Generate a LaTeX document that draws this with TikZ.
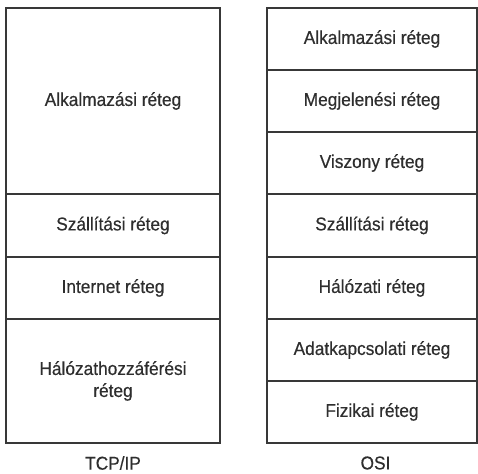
\documentclass[tikz,border=0pt]{standalone}
\usepackage{fontspec}
\setmainfont{Liberation Sans}[FakeStretch=0.93, FakeBold=0.4]
\begin{document}
\begin{tikzpicture}[x=1pt,y=-1pt,
  layer/.style={draw=linegray, line width=2.4pt, rectangle, inner sep=0pt,
    text=textgray, font=\fontsize{18.6}{22}\selectfont, align=center},
  caption/.style={text=textgray, font=\fontsize{18.6}{22}\selectfont, inner sep=0pt}]
\definecolor{linegray}{HTML}{383838}
\definecolor{textgray}{HTML}{2E2E2E}
\useasboundingbox (0,0) rectangle (478,473);
% TCP/IP stack
\node[layer, minimum width=214pt, minimum height=186pt] (tapp) at (113,101) {Alkalmazási réteg};
\node[layer, minimum width=214pt, minimum height=63pt] (ttrans) at (113,225.5) {Szállítási réteg};
\node[layer, minimum width=214pt, minimum height=62pt] (tnet) at (113,288) {Internet réteg};
\node[layer, minimum width=214pt, minimum height=124pt] (tacc) at (113,381) {Hálózathozzáférési\\réteg};
\node[caption] (tcap) at (113,463) {TCP/IP};
% OSI stack
\node[layer, minimum width=210pt, minimum height=62pt] (oapp) at (372,39) {Alkalmazási réteg};
\node[layer, minimum width=210pt, minimum height=62pt] (opres) at (372,101) {Megjelenési réteg};
\node[layer, minimum width=210pt, minimum height=62pt] (osess) at (372,163) {Viszony réteg};
\node[layer, minimum width=210pt, minimum height=63pt] (otrans) at (372,225.5) {Szállítási réteg};
\node[layer, minimum width=210pt, minimum height=62pt] (onet) at (372,288) {Hálózati réteg};
\node[layer, minimum width=210pt, minimum height=62pt] (olink) at (372,350) {Adatkapcsolati réteg};
\node[layer, minimum width=210pt, minimum height=62pt] (ophys) at (372,412) {Fizikai réteg};
\node[caption] (ocap) at (375.5,463) {OSI};
\end{tikzpicture}
\end{document}
